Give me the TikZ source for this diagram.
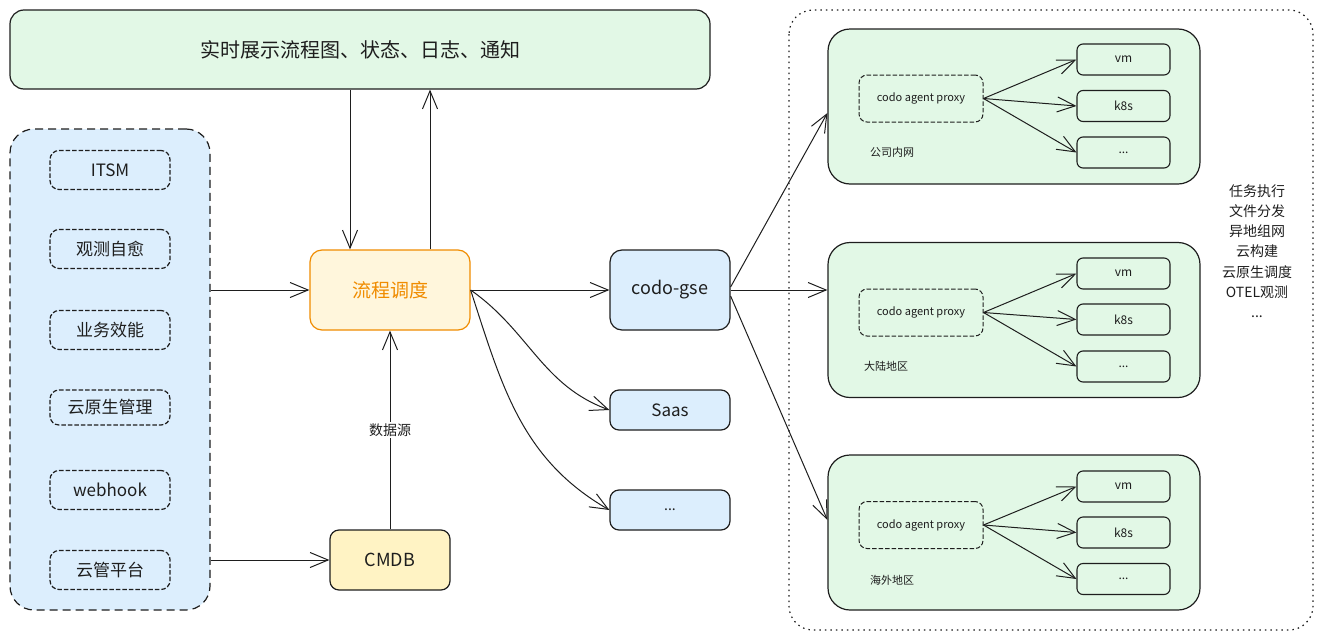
\documentclass[tikz,border=0pt]{standalone}
\usepackage{fontspec}
\setmainfont{Noto Sans CJK SC}
\usetikzlibrary{arrows.meta}

\definecolor{ink}{HTML}{1E1E1E}
\definecolor{bluefill}{HTML}{DCEEFD}
\definecolor{greenfill}{HTML}{E2F8E6}
\definecolor{orangeline}{HTML}{F08C00}
\definecolor{orangefill}{HTML}{FFF6DC}
\definecolor{cmdbfill}{HTML}{FFF3C4}

\tikzset{
  blk/.style={draw=ink, line width=1.2pt, rounded corners=9pt, fill=bluefill,
    text=ink, minimum width=120pt, minimum height=40pt, inner sep=0pt},
  srcbox/.style={blk, dashed, dash pattern=on 4.5pt off 2pt, minimum height=39pt,
    font=\fontsize{17}{20}\selectfont},
  grp/.style={draw=ink, line width=1.2pt, rounded corners=22pt, fill=greenfill,
    minimum width=372pt, minimum height=155pt, inner sep=0pt},
  proxy/.style={draw=ink, line width=1pt, dashed, dash pattern=on 4.5pt off 2pt,
    rounded corners=8pt, fill=greenfill, text=ink, minimum width=124pt,
    minimum height=47pt, font=\fontsize{11}{13}\selectfont},
  target/.style={draw=ink, line width=1.1pt, rounded corners=6pt, fill=greenfill,
    text=ink, minimum width=93pt, minimum height=31pt, inner sep=0pt,
    font=\fontsize{12}{14}\selectfont},
  arr/.style={draw=ink, line width=1pt, -{Straight Barb[length=18pt,width=15pt,line width=1pt]}},
  lbl/.style={text=ink, font=\fontsize{11}{13}\selectfont},
}

\begin{document}
\begin{tikzpicture}[x=1pt,y=-1pt]
  \useasboundingbox (0,0) rectangle (1323,640);

  % top view
  \node[blk, fill=greenfill, rounded corners=14pt, minimum width=700pt, minimum height=79pt,
        font=\fontsize{20}{24}\selectfont] (view) at (360,49.5) {实时展示流程图、状态、日志、通知};

  % sources
  \node[draw=ink, line width=1.2pt, dashed, dash pattern=on 8pt off 5pt, rounded corners=24pt,
        fill=bluefill, minimum width=200pt, minimum height=481pt] (src) at (110,369.5) {};
  \node[srcbox] (itsm) at (110,170) {ITSM};
  \node[srcbox] (heal) at (110,249) {观测自愈};
  \node[srcbox] (biz) at (110,330) {业务效能};
  \node[srcbox, minimum height=35pt] (cloud) at (110,407.5) {云原生管理};
  \node[srcbox] (hook) at (110,490) {webhook};
  \node[srcbox] (cmp) at (110,570) {云管平台};

  % core
  \node[blk, draw=orangeline, fill=orangefill, text=orangeline, rounded corners=12pt,
        minimum width=160pt, minimum height=80pt, font=\fontsize{19}{22}\selectfont] (flow) at (390,290) {流程调度};
  \node[blk, fill=cmdbfill, minimum height=60pt, font=\fontsize{18}{22}\selectfont] (cmdb) at (390,560) {CMDB};

  \node[blk, rounded corners=12pt, minimum height=80pt, font=\fontsize{18}{22}\selectfont] (gse) at (670,290) {codo-gse};
  \node[blk, font=\fontsize{17}{20}\selectfont] (saas) at (670,410) {Saas};
  \node[blk, font=\fontsize{14}{16}\selectfont] (more) at (670,510) {...};

  \draw[arr] (src.east |- flow.west) -- (flow.west);
  \draw[arr] (src.east |- cmdb.west) -- (cmdb.west);
  \draw[arr] (cmdb.north) -- node[fill=white, text=ink, font=\fontsize{14}{16}\selectfont, inner sep=2pt] {数据源} (flow.south);
  \draw[arr] (view.south -| 350,0) -- (flow.north -| 350,0);
  \draw[arr] (flow.north -| 430,0) -- (view.south -| 430,0);
  \draw[arr] (flow.east) -- (gse.west);
  \draw[arr] (flow.east) to[out=-35, in=160] (saas.west);
  \draw[arr] (flow.east) to[out=-72, in=150] (more.west);

  % execution area
  \draw[ink, line width=1.2pt, dash pattern=on 1.5pt off 4pt, rounded corners=24pt] (789,10) rectangle (1313,630);

  \node[grp] (lan) at (1014,106.5) {};
  \node[proxy] (lanproxy) at (921,98.5) {codo agent proxy};
  \node[target] (lanvm) at (1123.5,59.5) {vm};
  \node[target] (lank8s) at (1123.5,106) {k8s};
  \node[target] (lanmore) at (1123.5,152.5) {...};
  \node[lbl] at (892,152) {公司内网};
  \draw[arr] (lanproxy.east) -- (lanvm.west);
  \draw[arr] (lanproxy.east) -- (lank8s.west);
  \draw[arr] (lanproxy.east) -- (lanmore.west);

  \node[grp] (cn) at (1014,320) {};
  \node[proxy] (cnproxy) at (921,312.5) {codo agent proxy};
  \node[target] (cnvm) at (1123.5,273.5) {vm};
  \node[target] (cnk8s) at (1123.5,319.5) {k8s};
  \node[target] (cnmore) at (1123.5,366.5) {...};
  \node[lbl] at (886,366) {大陆地区};
  \draw[arr] (cnproxy.east) -- (cnvm.west);
  \draw[arr] (cnproxy.east) -- (cnk8s.west);
  \draw[arr] (cnproxy.east) -- (cnmore.west);

  \node[grp] (abroad) at (1014,532.5) {};
  \node[proxy] (abproxy) at (921,525) {codo agent proxy};
  \node[target] (abvm) at (1123.5,486.5) {vm};
  \node[target] (abk8s) at (1123.5,532.5) {k8s};
  \node[target] (abmore) at (1123.5,579) {...};
  \node[lbl] at (892,580) {海外地区};
  \draw[arr] (abproxy.east) -- (abvm.west);
  \draw[arr] (abproxy.east) -- (abk8s.west);
  \draw[arr] (abproxy.east) -- (abmore.west);

  \draw[arr] (gse.east) ++(0,-3) -- (lan.west |- 0,113);
  \draw[arr] (gse.east) -- (cn.west |- 0,290);
  \draw[arr] (gse.east) ++(0,6) -- (abroad.west |- 0,520);

  \node[text=ink, align=center, font=\fontsize{14}{20.2}\selectfont] (tasks) at (1257,251)
    {任务执行\\文件分发\\异地组网\\云构建\\云原生调度\\OTEL观测\\...};
\end{tikzpicture}
\end{document}
